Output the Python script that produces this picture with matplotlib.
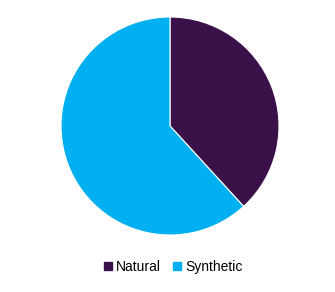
import matplotlib.pyplot as plt
from matplotlib.lines import Line2D

labels = ['Natural', 'Synthetic']
shares = [38.2, 61.8]
colors = ['#3A1048', '#00B0F0']

plt.rcParams['font.family'] = ['Liberation Sans', 'DejaVu Sans']

fig = plt.figure(figsize=(3.35, 2.92), dpi=100)
ax = fig.add_axes([61 / 335, 57 / 292, 218 / 335, 218 / 292])
ax.pie(shares, colors=colors, startangle=90, counterclock=False,
       wedgeprops={'edgecolor': 'white', 'linewidth': 0.8}, radius=1.0)
ax.set_xlim(-1, 1)
ax.set_ylim(-1, 1)
ax.set_aspect('equal')

handles = [Line2D([], [], marker='s', linestyle='none', markersize=6,
                  markerfacecolor=c, markeredgecolor=c) for c in colors]
fig.legend(handles, labels, loc='center', bbox_to_anchor=(173 / 335, 1 - 267 / 292),
           ncol=2, frameon=False, fontsize=10, handlelength=0.6,
           handletextpad=0.3, columnspacing=0.8)

fig.savefig('out.png', dpi=100, facecolor='white')
